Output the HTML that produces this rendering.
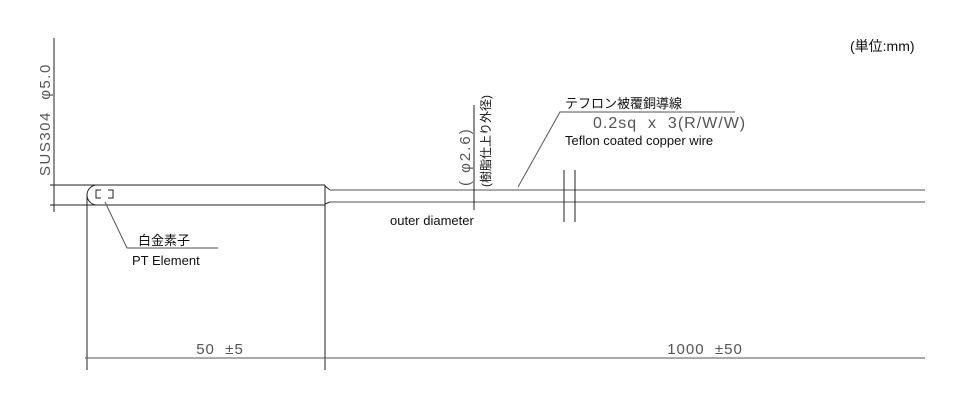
<!DOCTYPE html>
<html><head><meta charset="utf-8"><style>
html,body{margin:0;padding:0;background:#fff;}
svg{display:block;}
text{font-family:"Liberation Sans","Noto Sans CJK JP",sans-serif;}
</style></head><body>
<svg width="960" height="405" viewBox="0 0 960 405" xmlns="http://www.w3.org/2000/svg">
<g stroke="#222" stroke-width="1" fill="none">
<line x1="54" y1="38" x2="54" y2="212"/>
<line x1="50" y1="185" x2="325" y2="185"/>
<line x1="50" y1="205" x2="325" y2="205"/>
<path d="M97,185 A10,10 0 0 0 97,205"/>
<line x1="325" y1="185" x2="325" y2="370"/>
<line x1="87" y1="195" x2="87" y2="370"/>
<line x1="325" y1="186" x2="330" y2="190"/>
<line x1="325" y1="204" x2="330" y2="202"/>
<line x1="330" y1="190" x2="925" y2="190" stroke="#555"/>
<line x1="330" y1="202" x2="925" y2="202" stroke="#555"/>
<line x1="564" y1="170" x2="564" y2="222"/>
<line x1="575" y1="170" x2="575" y2="222"/>
<line x1="474" y1="105" x2="474" y2="210"/>
<polyline points="518,187 560,112 735,112" stroke="#555"/>
<polyline points="105,202 127,248 218,248" stroke="#555"/>
<polyline points="101,190 96,190 96,198 101,198"/>
<polyline points="108,190 113,190 113,198 108,198"/>
<line x1="85" y1="358" x2="925" y2="358" stroke="#555"/>
</g>
<g fill="#555" font-size="15">
<text x="220" y="354" text-anchor="middle" xml:space="preserve" letter-spacing="1">50  ±5</text>
<text x="705" y="354" text-anchor="middle" xml:space="preserve" letter-spacing="1">1000  ±50</text>
<text x="593" y="128" font-size="16" xml:space="preserve" letter-spacing="1">0.2sq  x  3(R/W/W)</text>
<text transform="translate(50,176) rotate(-90)" font-size="15" xml:space="preserve" letter-spacing="1.5">SUS304  φ5.0</text>
<text transform="translate(470,186) rotate(-90)" font-size="15" xml:space="preserve" letter-spacing="2">( φ2.6)</text>
</g>
<g fill="#111" font-size="13">
<text x="850" y="51" font-size="14">(単位:mm)</text>
<text x="565" y="108" font-size="13">テフロン被覆銅導線</text>
<text x="565" y="145">Teflon coated copper wire</text>
<text x="390" y="225">outer diameter</text>
<text x="138" y="245" font-size="13">白金素子</text>
<text x="132" y="265">PT Element</text>
<text transform="translate(490,187) rotate(-90)" font-size="12">(樹脂仕上り外径)</text>
</g>
</svg>
</body></html>
